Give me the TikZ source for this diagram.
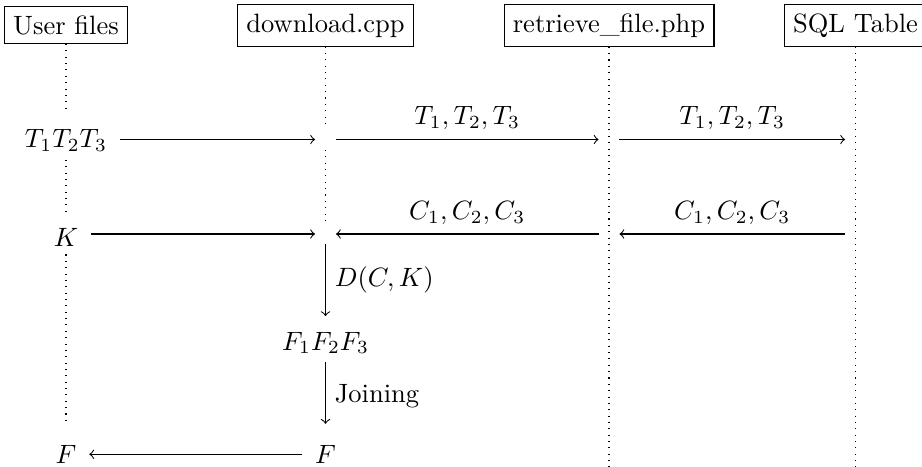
\documentclass[tikz,border=0pt]{standalone}
\begin{document}
\begin{tikzpicture}[x=0.3774pt,y=-0.3774pt,
  box/.style={draw,inner sep=3.33pt},
  lbl/.style={inner xsep=4.7pt,inner ysep=3pt,text height=9.6pt,anchor=base},
  hub/.style={inner sep=0pt,minimum size=7.5pt},
  life/.style={dotted},
  msg/.style={->}]
\useasboundingbox (0,0) rectangle (922,466);
% lifeline heads
\node[box] (uf) at (66,25) {User files};
\node[box] (dl) at (325.5,25.5) {download.cpp};
\node[box] (rf) at (609,25.5) {retrieve\_file.php};
\node[box] (sq) at (855.5,25.5) {SQL Table};
% row nodes
\node[lbl] (t123) at (66,147.4) {$T_1T_2T_3$};
\node[lbl] (k) at (66,246) {$K$};
\node[lbl] (fl) at (66,463) {$F$};
\node[lbl] (f123) at (325.5,350) {$F_1F_2F_3$};
\node[lbl] (fr) at (325.5,463) {$F$};
\node[hub] (dT) at (325.5,139.5) {};
\node[hub] (rT) at (609,139.5) {};
\node[hub] (sT) at (855.5,139.5) {};
\node[hub] (dK) at (325.5,234) {};
\node[hub] (rK) at (609,234) {};
\node[hub] (sK) at (855.5,234) {};
\coordinate (rEnd) at (609,472);
\coordinate (sEnd) at (855.5,472);
% lifelines
\draw[life] (uf) -- (t123);
\draw[life] (t123) -- (k);
\draw[life,shorten >=1.7pt] (k) -- (fl);
\draw[life] (dl) -- (dT);
\draw[life] (dT) -- (dK);
\draw[life] (rf) -- (rEnd);
\draw[life] (sq) -- (sEnd);
% messages
\draw[msg] (t123.east |- dT) -- (dT);
\draw[msg] (dT) -- node[above] {$T_1,T_2,T_3$} (rT);
\draw[msg] (rT) -- node[above] {$T_1,T_2,T_3$} (sT);
\draw[msg] (k.east |- dK) -- (dK);
\draw[msg] (rK) -- node[above] {$C_1,C_2,C_3$} (dK);
\draw[msg] (sK) -- node[above] {$C_1,C_2,C_3$} (rK);
\draw[msg] (dK) -- node[right] {$D(C,K)$} (f123);
\draw[msg,shorten >=2pt] (f123) -- node[right] {Joining} (fr);
\draw[msg] ([yshift=-1.5pt]fr.west) -- ([yshift=-1.5pt]fl.east);
\end{tikzpicture}
\end{document}
